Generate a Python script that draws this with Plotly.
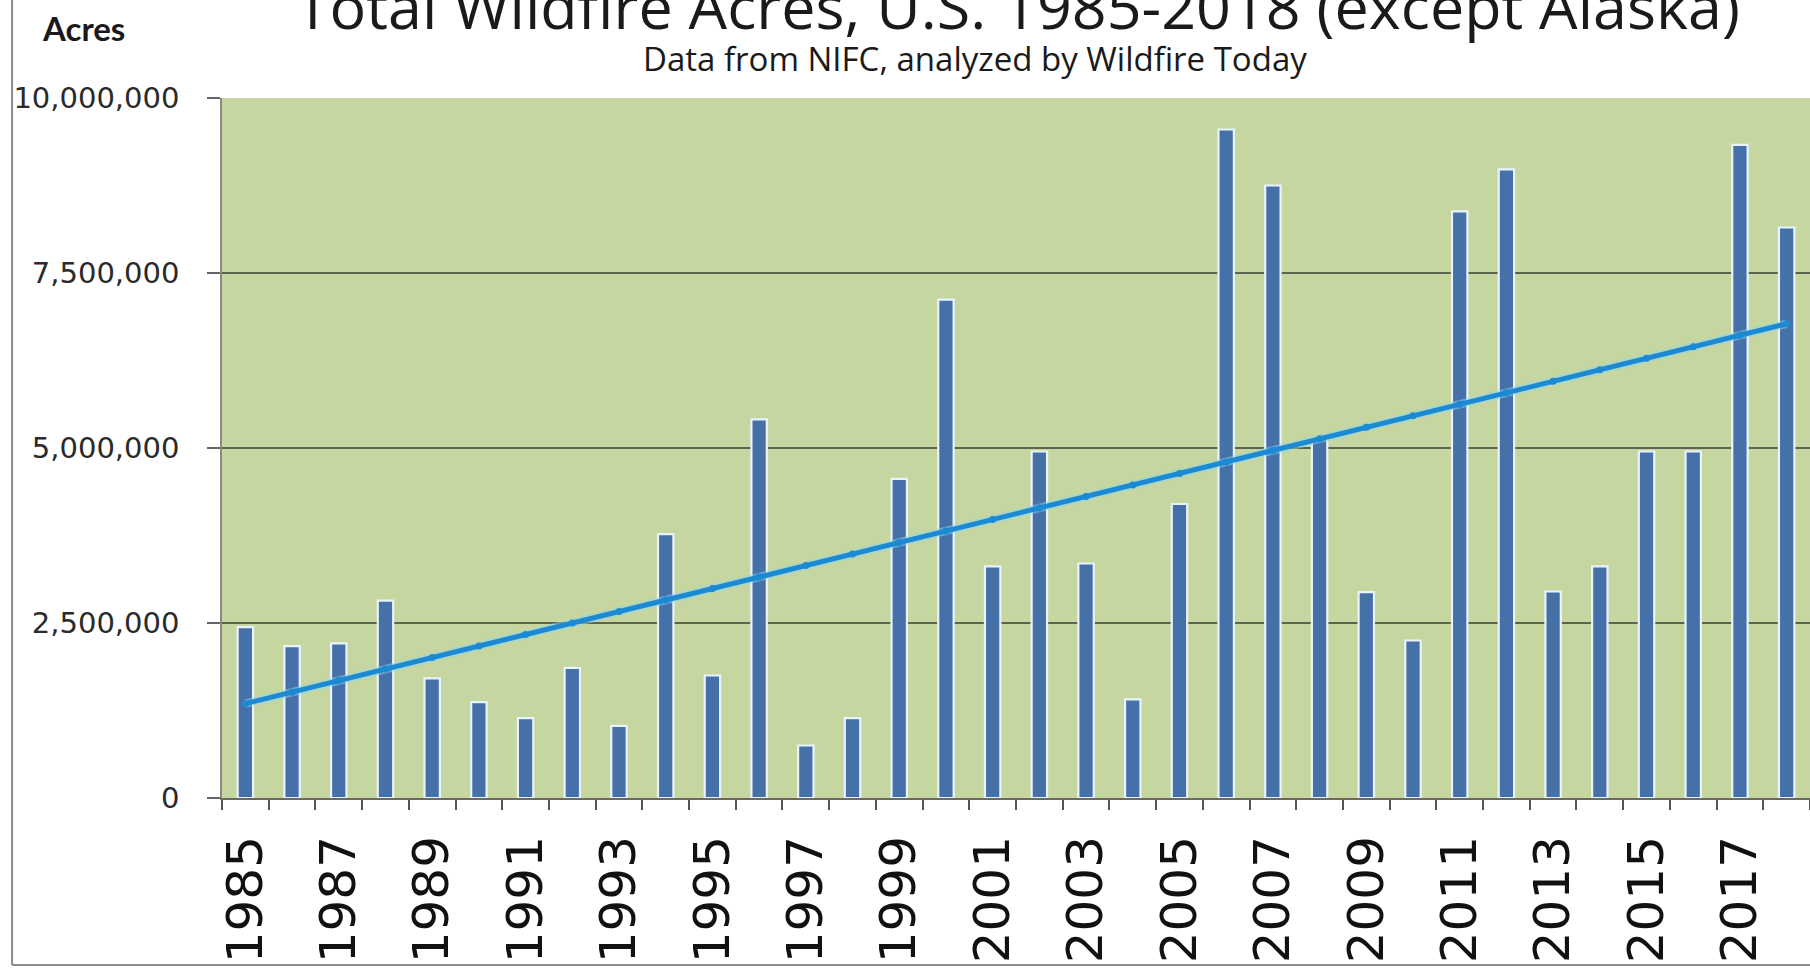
import numpy as np
import plotly.graph_objects as go

# Total wildfire acres burned in the U.S. (excluding Alaska), by year
years = list(range(1985, 2019))
acres = [
    2440000, 2170000, 2210000, 2820000, 1710000, 1370000, 1140000, 1860000,
    1030000, 3770000, 1750000, 5410000, 750000, 1140000, 4560000, 7120000,
    3310000, 4950000, 3350000, 1410000, 4200000, 9550000, 8750000, 5130000,
    2940000, 2250000, 8380000, 8980000, 2950000, 3310000, 4950000, 4950000,
    9330000, 8150000,
]
year_labels = [str(y) if (y - 1985) % 2 == 0 else "" for y in years]
y_ticks = [0, 2500000, 5000000, 7500000, 10000000]

# Linear trend fitted to the yearly totals
slope, intercept = np.polyfit(years, acres, 1)
trend = [slope * y + intercept for y in years]

cats = [str(y) for y in years]

fig = go.Figure()
fig.add_trace(go.Bar(
    x=cats, y=acres, width=0.33,
    marker=dict(color="#4670a8", line=dict(color="#e8f3fb", width=2.2)),
    showlegend=False,
))
fig.add_trace(go.Scatter(
    x=cats, y=trend, mode="lines",
    line=dict(color="#8fd6f4", width=8.5), opacity=0.5,
    showlegend=False, hoverinfo="skip",
))
fig.add_trace(go.Scatter(
    x=cats, y=trend, mode="lines+markers",
    line=dict(color="#1c8ad2", width=5),
    marker=dict(color="#1c8ad2", size=7),
    showlegend=False,
))

fig.update_layout(
    width=1810, height=968,
    margin=dict(l=222, r=0, t=98, b=170),
    paper_bgcolor="white",
    plot_bgcolor="#c5d6a0",
    font=dict(family="DejaVu Sans", color="#222222"),
    xaxis=dict(
        type="category",
        tickmode="array", tickvals=cats, ticktext=year_labels,
        tickson="boundaries",
        ticks="outside", ticklen=10, tickwidth=1.5, tickcolor="#555555",
        tickangle=-90,
        tickfont=dict(family="DejaVu Sans", size=50, color="#111111"),
        ticklabelstandoff=16,
        showline=True, linecolor="#6a6a60", linewidth=2,
        showgrid=False,
        range=[-0.5, len(cats) - 0.5],
    ),
    yaxis=dict(
        range=[0, 10000000],
        tickmode="array", tickvals=y_ticks,
        tickformat=",d",
        ticks="outside", ticklen=13, tickwidth=1.5, tickcolor="#666666",
        tickfont=dict(family="DejaVu Sans", size=29, color="#2a2a2a"),
        ticklabelstandoff=22,
        showgrid=True, gridcolor="#5e6350", gridwidth=1.5,
        showline=True, linecolor="#8a8a80", linewidth=1.5,
        zeroline=False,
    ),
    annotations=[
        dict(text="Total Wildfire Acres, U.S. 1985-2018 (except Alaska)",
             xref="paper", yref="paper", x=0.501, y=1.132,
             xanchor="center", yanchor="middle", showarrow=False,
             font=dict(family="Open Sans", size=61, color="#1a1a1a")),
        dict(text="Data from NIFC, analyzed by Wildfire Today",
             xref="paper", yref="paper", x=0.474, y=1.057,
             xanchor="center", yanchor="middle", showarrow=False,
             font=dict(family="Open Sans", size=33, color="#1a1a1a")),
        dict(text="<b>Acres</b>",
             xref="paper", yref="paper", x=-0.0875, y=1.1,
             xanchor="center", yanchor="middle", showarrow=False,
             font=dict(family="Lato", size=33, color="#1a1a1a")),
    ],
    shapes=[
        # outer chart frame (left and bottom edges visible)
        dict(type="line", xref="paper", yref="paper",
             x0=-0.1322, x1=-0.1322, y0=1.2, y1=-0.2386,
             line=dict(color="#8c8c8c", width=2)),
        dict(type="line", xref="paper", yref="paper",
             x0=-0.1322, x1=1.0, y0=-0.2386, y1=-0.2386,
             line=dict(color="#8c8c8c", width=2)),
    ],
)

fig.write_html("out.html")
